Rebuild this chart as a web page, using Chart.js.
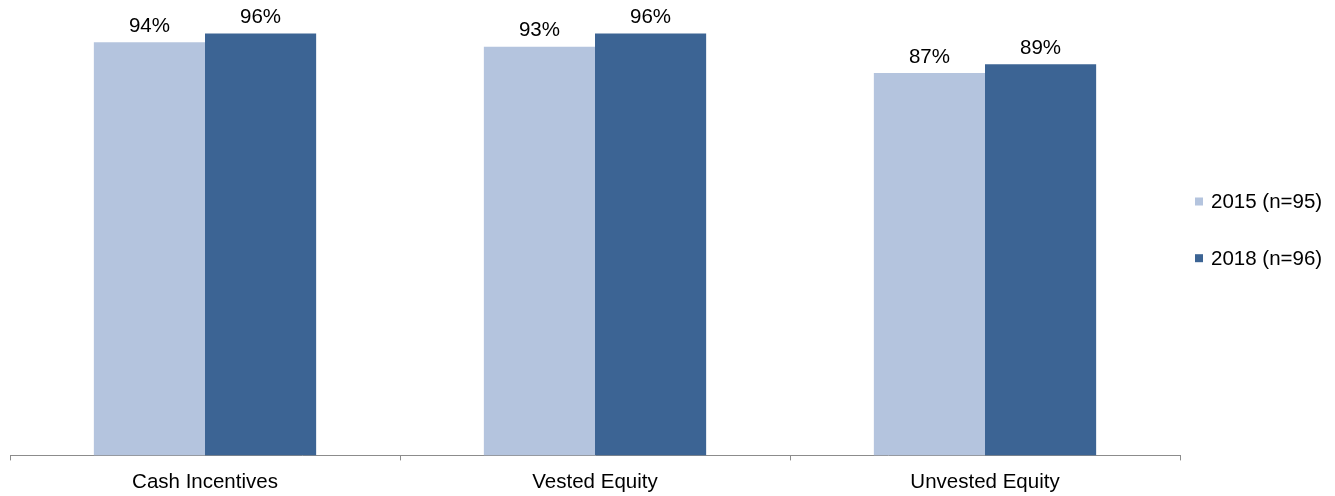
<!DOCTYPE html>
<html>
<head>
<meta charset="utf-8">
<script src="https://cdn.jsdelivr.net/npm/chart.js@4/dist/chart.umd.min.js"></script>
<style>
  html, body { margin: 0; padding: 0; background: #ffffff; }
  #wrap { width: 1335px; height: 496px; }
</style>
</head>
<body>
<div id="wrap"><canvas id="c" width="1335" height="496"></canvas></div>
<script>
// Share of respondents by incentive type, per survey year (percent)
const categories = ['Cash Incentives', 'Vested Equity', 'Unvested Equity'];
const seriesNames = ['2015 (n=95)', '2018 (n=96)'];
const values2015 = [94, 93, 87];
const values2018 = [96, 96, 89];

const FONT = "'Liberation Sans', Arial, sans-serif";
const FONT_SIZE = 20.5;
const COLORS = ['#B4C4DE', '#3C6494'];

// Percent labels above each bar
const valueLabels = {
  id: 'valueLabels',
  afterDatasetsDraw(chart) {
    const ctx = chart.ctx;
    ctx.save();
    ctx.font = FONT_SIZE + 'px ' + FONT;
    ctx.fillStyle = '#000000';
    ctx.textAlign = 'center';
    ctx.textBaseline = 'alphabetic';
    chart.data.datasets.forEach((ds, di) => {
      chart.getDatasetMeta(di).data.forEach((bar, i) => {
        ctx.fillText(ds.data[i] + '%', bar.x, bar.y - 10.5);
      });
    });
    ctx.restore();
  }
};

// Vertical legend at the right edge
const sideLegend = {
  id: 'sideLegend',
  afterDraw(chart) {
    const ctx = chart.ctx;
    const startY = 208.3;
    const step = 56.7;
    ctx.save();
    ctx.font = FONT_SIZE + 'px ' + FONT;
    ctx.textAlign = 'left';
    ctx.textBaseline = 'alphabetic';
    chart.data.datasets.forEach((ds, di) => {
      const base = startY + di * step;
      ctx.fillStyle = ds.backgroundColor;
      ctx.fillRect(1195, base - 10.8, 8, 8);
      ctx.fillStyle = '#000000';
      ctx.fillText(ds.label, 1211, base);
    });
    ctx.restore();
  }
};

new Chart(document.getElementById('c'), {
  type: 'bar',
  data: {
    labels: categories,
    datasets: [
      { label: seriesNames[0], data: values2015, backgroundColor: COLORS[0] },
      { label: seriesNames[1], data: values2018, backgroundColor: COLORS[1] }
    ]
  },
  options: {
    responsive: false,
    animation: false,
    devicePixelRatio: 1,
    layout: { padding: { top: 16, left: 10, right: 155, bottom: -9 } },
    datasets: {
      bar: { categoryPercentage: 0.57, barPercentage: 1.0, borderWidth: 0 }
    },
    plugins: {
      legend: { display: false },
      tooltip: { enabled: false }
    },
    scales: {
      x: {
        offset: true,
        grid: {
          offset: true,
          drawOnChartArea: false,
          drawTicks: true,
          tickLength: 5,
          color: '#8c8c8c',
          lineWidth: 1
        },
        border: { display: true, color: '#8c8c8c', width: 1 },
        ticks: {
          color: '#000000',
          padding: 10,
          font: { family: FONT, size: FONT_SIZE, lineHeight: 1.2 }
        }
      },
      y: {
        display: false,
        min: 0,
        max: 100
      }
    }
  },
  plugins: [valueLabels, sideLegend]
});
</script>
</body>
</html>
